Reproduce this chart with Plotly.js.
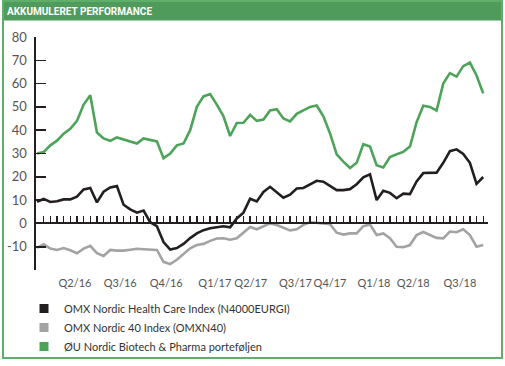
<!DOCTYPE html>
<html>
<head>
<meta charset="utf-8">
<script src="https://cdn.plot.ly/plotly-3.0.1.min.js"></script>
<style>html,body{margin:0;padding:0;background:#fff;}#chart{width:505px;height:366px;}</style>
</head>
<body>
<div id="chart"></div>
<script>
// Period index (roughly bi-weekly observations, Jan 2016 - Sep 2018)
const periods = Array.from({length: 68}, (_, i) => i);

const healthCare = [9.3,10.5,9.2,9.5,10.3,10.3,11.5,14.6,15.2,9,13.6,15.4,16,8,6,4.6,5.5,0.5,-1.2,-8,
  -11.2,-10.6,-8.8,-6.3,-4.3,-2.9,-2.1,-1.5,-1.2,-1.7,2.1,4.6,10.6,9.4,13.5,15.7,13.5,11,12.3,15,
  15.2,16.8,18.3,17.9,16,14.3,14.3,14.7,16.8,19.8,21.1,10,14,13.1,10.8,12.8,12.6,18,21.6,21.7,
  21.8,26,31,31.8,29.8,26,17,19.9];

const omxN40 = [-10.5,-9,-10.8,-11.4,-10.6,-11.5,-12.8,-10.8,-9.6,-12.8,-14,-11.4,-11.7,-11.7,-11.3,-10.9,-11.1,-11.3,-11.4,-16.5,
  -17.5,-15.6,-13,-10.7,-9.3,-8.8,-7.5,-6.5,-6.4,-7,-6.4,-4,-1.5,-2.5,-1.2,0,-0.7,-1.8,-3,-2.5,
  -0.6,0.5,0.4,0,-0.3,-4,-4.8,-4.3,-4.3,-1.2,-0.5,-5,-4.3,-6.4,-10,-10.2,-9.3,-5,-3.7,-5,
  -6.2,-6.4,-3.5,-3.8,-2.5,-5,-10,-9.3];

const ouPortfolio = [30,30.6,33.5,35.5,38.5,40.6,44,51,55,39,36.5,35.4,36.9,36,35,34.3,36.5,36,35.2,28,
  30,33.5,34.3,40,50,54.5,55.5,51,46,37.5,43.1,43.2,46.6,44,44.6,48.5,49,45,43.8,47,
  48.5,50,50.6,46,38.6,29.6,26.5,23.8,26,34,33,25,24,28.5,29.7,30.7,33,43.5,50.5,50,
  48.4,60,64.5,63,67.5,69,63.5,55.8];

const seriesNames = ["OMX Nordic Health Care Index (N4000EURGI)", "OMX Nordic 40 Index (OMXN40)", "ØU Nordic Biotech & Pharma porteføljen"];
const seriesColors = ["#231f20", "#a3a3a3", "#4ea35a"];

const quarterPos = [5.7, 12.5, 19.4, 26.7, 32.1, 38.8, 44.0, 50.6, 56.5, 63.5];
const quarterLabels = ["Q2/16","Q3/16","Q4/16","Q1/17","Q2/17","Q3/17","Q4/17","Q1/18","Q2/18","Q3/18"];

const yTicks = [-20,-10,0,10,20,30,40,50,60,70,80];
const yTickText = ["","-10","0","10","20","30","40","50","60","70","80"];
const yRange = [-20, 80];

const values = [healthCare, omxN40, ouPortfolio];
const xRange = [-0.15, 67.72];

const traces = [];
[1,0,2].forEach(k => {
  traces.push({
    type: "scatter", mode: "lines", x: periods, y: values[k],
    line: {color: seriesColors[k], width: 2.6},
    showlegend: false, hoverinfo: "skip"
  });
});
[0,1,2].forEach(k => {
  traces.push({
    type: "scatter", mode: "markers", x: [null], y: [null], name: seriesNames[k],
    marker: {symbol: "square", size: 9, color: seriesColors[k]},
    showlegend: true
  });
});
traces.push({type: "scatter", mode: "lines", x: [null], y: [null], xaxis: "x2", showlegend: false, hoverinfo: "skip"});

// frame geometry (pixels)
const W = 505, H = 366, L = 36, R = 17, T = 37, B = 1;
const plotBottom = 270;               // pixel row of the lower end of the y axis
const pw = W - L - R, ph = H - T - B;
const px = v => (v - L) / pw;
const py = v => (H - B - v) / ph;
const yDomain = [py(plotBottom), 1];
const zeroFrac = yDomain[0] + (yDomain[1] - yDomain[0]) * (0 - yRange[0]) / (yRange[1] - yRange[0]);

const layout = {
  width: W, height: H,
  margin: {l: L, r: R, t: T, b: B, pad: 0},
  paper_bgcolor: "#ffffff", plot_bgcolor: "rgba(0,0,0,0)",
  font: {family: "Lato, 'Open Sans', sans-serif", color: "#444"},
  title: {
    text: "AKKUMULERET PERFORMANCE",
    font: {family: "Roboto, 'DejaVu Sans Condensed', sans-serif", size: 10, color: "#ffffff", weight: 700},
    xref: "container", x: 7 / W, xanchor: "left",
    yref: "container", y: 1 - 11 / H, yanchor: "middle"
  },
  showlegend: true,
  legend: {
    x: px(24), xanchor: "left", y: py(361), yanchor: "bottom",
    font: {family: "Lato, 'Open Sans', sans-serif", size: 11, color: "#333"},
    bgcolor: "rgba(0,0,0,0)", borderwidth: 0, traceorder: "normal",
    itemwidth: 30
  },
  xaxis: {
    range: xRange, showgrid: false, zeroline: false, showline: false,
    ticks: "", tickmode: "array", tickvals: quarterPos, ticktext: quarterLabels,
    tickangle: 0,
    tickfont: {family: "Lato, 'Open Sans', sans-serif", size: 11, color: "#555"},
    ticklabelstandoff: 5, fixedrange: true
  },
  xaxis2: {
    overlaying: "x", anchor: "free", position: zeroFrac, side: "bottom",
    range: xRange, showgrid: false, zeroline: false,
    showline: true, linecolor: "#231f20", linewidth: 2,
    ticks: "inside", ticklen: 6, tickwidth: 1.4, tickcolor: "#231f20",
    tickmode: "linear", tick0: 0, dtick: 1, showticklabels: false
  },
  yaxis: {
    domain: yDomain,
    range: yRange, showgrid: false, zeroline: false,
    showline: true, linecolor: "#231f20", linewidth: 1.6,
    ticks: "inside", ticklen: 10, tickwidth: 1.6, tickcolor: "#231f20",
    tickmode: "array", tickvals: yTicks, ticktext: yTickText,
    tickfont: {family: "Lato, 'Open Sans', sans-serif", size: 13, color: "#555"},
    ticklabelstandoff: 5, fixedrange: true
  },
  shapes: [
    {type: "rect", xref: "paper", yref: "paper", x0: px(3), x1: px(502), y0: py(20.5), y1: py(0), fillcolor: "#4f9b5b", line: {width: 0}, layer: "below"},
    {type: "rect", xref: "paper", yref: "paper", x0: px(3), x1: px(502), y0: py(358), y1: py(1), fillcolor: "rgba(0,0,0,0)", line: {color: "#5fae69", width: 2}, layer: "below"}
  ]
};

Plotly.newPlot("chart", traces, layout, {displayModeBar: false, staticPlot: true});
</script>
</body>
</html>
